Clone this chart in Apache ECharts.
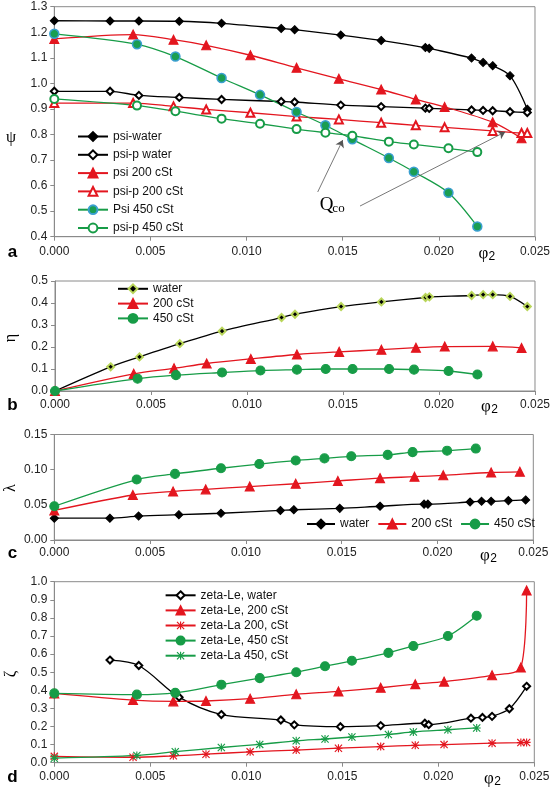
<!DOCTYPE html>
<html><head><meta charset="utf-8">
<script src="https://cdn.jsdelivr.net/npm/echarts@6/dist/echarts.min.js"></script>
<style>html,body{margin:0;padding:0;background:#fff}#c{width:553px;height:789px}</style>
</head><body><div id="c"></div>
<script>
// ---- data ----
const xTicks = [0, 0.005, 0.010, 0.015, 0.020, 0.025];
const xWater = [0, 0.0029, 0.0044, 0.0065, 0.0087, 0.0118, 0.0125, 0.0149, 0.0170, 0.0193, 0.0195, 0.0217, 0.0223, 0.0228, 0.0237, 0.0246];
const x200 = [0, 0.0041, 0.0062, 0.0079, 0.0102, 0.0126, 0.0148, 0.0170, 0.0188, 0.0203, 0.0228, 0.0243, 0.0246];
const x450 = [0, 0.0043, 0.0063, 0.0087, 0.0107, 0.0126, 0.0141, 0.0155, 0.0174, 0.0187, 0.0205, 0.0220];

// panel a (psi)
const psiWater  = [1.245, 1.244, 1.244, 1.243, 1.235, 1.215, 1.210, 1.189, 1.168, 1.140, 1.137, 1.099, 1.082, 1.069, 1.030, 0.899];
const psiPWater = [0.969, 0.969, 0.953, 0.945, 0.937, 0.929, 0.927, 0.915, 0.909, 0.903, 0.902, 0.896, 0.894, 0.893, 0.889, 0.886];
const psi200    = [1.174, 1.191, 1.171, 1.149, 1.110, 1.061, 1.018, 0.976, 0.937, 0.908, 0.848, 0.785, null];
const psiP200   = [0.923, 0.923, 0.910, 0.898, 0.885, 0.870, 0.859, 0.846, 0.836, 0.828, 0.814, 0.806, 0.806];
const psi450    = [1.194, 1.153, 1.105, 1.021, 0.955, 0.888, 0.836, 0.781, 0.708, 0.654, 0.572, 0.440];
const psiP450   = [0.939, 0.913, 0.891, 0.862, 0.842, 0.821, 0.807, 0.795, 0.772, 0.761, 0.746, 0.731];
// panel b (eta)
const etaWater = [0, 0.110, 0.155, 0.215, 0.272, 0.334, 0.349, 0.384, 0.405, 0.425, 0.428, 0.434, 0.438, 0.438, 0.430, 0.384];
const eta200   = [0, 0.078, 0.103, 0.125, 0.146, 0.166, 0.178, 0.188, 0.197, 0.202, 0.203, 0.196, null];
const eta450   = [0, 0.056, 0.072, 0.084, 0.093, 0.097, 0.100, 0.100, 0.100, 0.097, 0.091, 0.075];
// panel c (lambda)
const lamWater = [0.031, 0.031, 0.034, 0.036, 0.038, 0.042, 0.043, 0.045, 0.048, 0.051, 0.051, 0.054, 0.055, 0.055, 0.056, 0.057];
const lam200   = [0.042, 0.064, 0.069, 0.072, 0.076, 0.080, 0.084, 0.088, 0.090, 0.092, 0.096, 0.097, null];
const lam450   = [0.048, 0.086, 0.094, 0.102, 0.108, 0.113, 0.116, 0.119, 0.121, 0.125, 0.127, 0.130];
// panel d (zeta)
const zLeWater = [null, 0.567, 0.537, 0.362, 0.266, 0.236, 0.209, 0.199, 0.205, 0.218, 0.210, 0.246, 0.250, 0.256, 0.298, 0.422];
const zLe200   = [0.383, 0.346, 0.339, 0.341, 0.354, 0.378, 0.394, 0.414, 0.434, 0.448, 0.483, 0.526, 0.952];
const zLa200   = [0.035, 0.030, 0.038, 0.047, 0.060, 0.070, 0.080, 0.089, 0.096, 0.100, 0.108, 0.111, 0.112];
const zLe450   = [0.383, 0.376, 0.386, 0.431, 0.467, 0.500, 0.533, 0.563, 0.607, 0.645, 0.700, 0.812];
const zLa450   = [0.025, 0.040, 0.061, 0.084, 0.101, 0.121, 0.131, 0.142, 0.156, 0.170, 0.182, 0.192];
// annotation arrows for Q_co (data space)
const qcoArrows = [[[0.0137, 0.575], [0.0150, 0.778]], [[0.0159, 0.520], [0.02345, 0.810]]];

// ---- styling ----
const BLK = '#000000', RED = '#e3161f', GRN = '#179c47';
const AX = '#8a8a8a';
const SANS = '"Liberation Sans", Arial, sans-serif';
const SERIF = '"Liberation Serif", "Times New Roman", serif';
const ASTER = 'path://M4.3,0L5.7,0L5.7,10L4.3,10Z M0,4.3L10,4.3L10,5.7L0,5.7Z M1,0L10,9L9,10L0,1Z M9,0L10,1L1,10L0,9Z';

function pts(xs, ys) { const o = []; for (let i = 0; i < ys.length; i++) if (ys[i] != null) o.push([xs[i], ys[i]]); return o; }

function ser(name, g, xs, ys, color, symbol, size, extra) {
  const s = {
    name: name, type: 'line', xAxisIndex: g, yAxisIndex: g,
    data: pts(xs, ys), smooth: 0.3, showAllSymbol: true,
    symbol: symbol, symbolSize: size,
    lineStyle: { color: color, width: 1.3 },
    itemStyle: { color: color, borderColor: color, borderWidth: 1.1 },
    z: 3
  };
  if (extra) { for (const k in extra) s[k] = extra[k]; }
  return s;
}

function xAx(g, margin) {
  return {
    type: 'value', gridIndex: g, min: 0, max: 0.025, interval: 0.005,
    axisLine: { lineStyle: { color: AX } },
    axisTick: { show: true, length: 4, lineStyle: { color: AX } },
    splitLine: { show: false },
    axisLabel: { margin: margin, fontSize: 12, color: '#222', fontFamily: SANS, formatter: v => v.toFixed(3) }
  };
}
function yAx(g, min, max, interval, dec) {
  return {
    type: 'value', gridIndex: g, min: min, max: max, interval: interval,
    axisLine: { show: true, lineStyle: { color: AX } },
    axisTick: { show: true, length: 4, lineStyle: { color: AX } },
    splitLine: { show: false },
    axisLabel: { margin: 7, fontSize: 12, color: '#222', fontFamily: SANS, formatter: v => v.toFixed(dec) }
  };
}

const series = [
  // a
  ser('a|psi-water', 0, xWater, psiWater, BLK, 'diamond', 8),
  ser('a|psi-p water', 0, xWater, psiPWater, BLK, 'emptyDiamond', 7),
  ser('a|psi 200 cSt', 0, x200, psi200, RED, 'triangle', 9),
  ser('a|psi-p 200 cSt', 0, x200, psiP200, RED, 'emptyTriangle', 8),
  ser('a|Psi 450 cSt', 0, x450, psi450, GRN, 'circle', 9, { itemStyle: { color: '#1a9e52', borderColor: '#3a9fd0', borderWidth: 1.5 } }),
  ser('a|psi-p 450 cSt', 0, x450, psiP450, GRN, 'emptyCircle', 8),
  {
    name: 'qco', type: 'line', xAxisIndex: 0, yAxisIndex: 0, data: [], silent: true,
    markLine: {
      silent: true, symbol: ['none', 'arrow'], symbolSize: 7, animation: false,
      label: { show: false },
      lineStyle: { color: '#555', width: 0.8, type: 'solid' },
      data: qcoArrows.map(a => [{ coord: a[0] }, { coord: a[1] }])
    }
  },
  // b
  ser('b|water', 1, xWater, etaWater, BLK, 'diamond', 7, { itemStyle: { color: '#000', borderColor: '#b9d65a', borderWidth: 2 } }),
  ser('b|200 cSt', 1, x200, eta200, RED, 'triangle', 9),
  ser('b|450 cSt', 1, x450, eta450, GRN, 'circle', 9),
  // c
  ser('c|water', 2, xWater, lamWater, BLK, 'diamond', 8),
  ser('c|200 cSt', 2, x200, lam200, RED, 'triangle', 9),
  ser('c|450 cSt', 2, x450, lam450, GRN, 'circle', 9),
  // d
  ser('d|zeta-Le, water', 3, xWater, zLeWater, BLK, 'emptyDiamond', 7),
  ser('d|zeta-Le, 200 cSt', 3, x200, zLe200, RED, 'triangle', 9),
  ser('d|zeta-La 200, cSt', 3, x200, zLa200, RED, ASTER, 8, { itemStyle: { color: RED, borderWidth: 0 } }),
  ser('d|zeta-Le, 450 cSt', 3, x450, zLe450, GRN, 'circle', 9),
  ser('d|zeta-La 450, cSt', 3, x450, zLa450, GRN, ASTER, 8, { itemStyle: { color: GRN, borderWidth: 0 } })
];

function leg(names, left, top, itemH, gap, orient, itemW) {
  return {
    data: names, left: left, top: top, orient: orient, padding: 0,
    itemWidth: itemW, itemHeight: itemH, itemGap: gap, selectedMode: false,
    formatter: n => n.split('|')[1],
    textStyle: { fontSize: 12, fontFamily: SANS, color: '#111', lineHeight: itemH }
  };
}

const legends = [
  leg(['a|psi-water', 'a|psi-p water', 'a|psi 200 cSt', 'a|psi-p 200 cSt', 'a|Psi 450 cSt', 'a|psi-p 450 cSt'], 77, 130.5, 11, 6.3, 'vertical', 30),
  leg(['b|water', 'b|200 cSt', 'b|450 cSt'], 117, 282.8, 11, 2.8, 'vertical', 30),
  leg(['c|water', 'c|200 cSt', 'c|450 cSt'], 306, 518, 11, 8, 'horizontal', 28),
  leg(['d|zeta-Le, water', 'd|zeta-Le, 200 cSt', 'd|zeta-La 200, cSt', 'd|zeta-Le, 450 cSt', 'd|zeta-La 450, cSt'], 164.6, 589.3, 10, 3.1, 'vertical', 30)
];

const gridBase = { show: true, borderColor: AX, borderWidth: 1, backgroundColor: 'transparent', containLabel: false };
const grids = [
  Object.assign({ left: 54.3, top: 6.7, width: 483, height: 230 }, gridBase),
  Object.assign({ left: 55, top: 281, width: 482, height: 110 }, gridBase),
  Object.assign({ left: 54.3, top: 434.5, width: 479, height: 105.5 }, gridBase),
  Object.assign({ left: 54.3, top: 581.7, width: 480, height: 181 }, gridBase)
];

function txt(x, y, text, size, family, weight, rot) {
  return {
    type: 'text', x: x, y: y, rotation: rot || 0, silent: true,
    style: { text: text, fontSize: size, fontFamily: family, fontWeight: weight || 'normal', fill: '#000', align: 'center', verticalAlign: 'middle' }
  };
}
const graphics = [
  txt(12.5, 252, 'a', 17, SANS, 'bold'),
  txt(12.5, 405, 'b', 17, SANS, 'bold'),
  txt(12.5, 553.5, 'c', 17, SANS, 'bold'),
  txt(12.5, 777, 'd', 17, SANS, 'bold'),
  txt(483.3, 253.3, 'φ', 17, SERIF), txt(491.8, 256.5, '2', 12, SANS),
  txt(486, 407, 'φ', 17, SERIF), txt(494.5, 410, '2', 12, SANS),
  txt(485, 556, 'φ', 17, SERIF), txt(493.5, 559, '2', 12, SANS),
  txt(489, 779, 'φ', 17, SERIF), txt(497.5, 782, '2', 12, SANS),
  txt(11, 138, 'ψ', 16, SERIF),
  txt(10.5, 338, 'η', 16, SERIF, 'normal', Math.PI / 2),
  txt(10.5, 488, 'λ', 16, SERIF, 'normal', Math.PI / 2),
  txt(10.5, 674, 'ζ', 16, SERIF, 'normal', Math.PI / 2),
  txt(326.5, 205.5, 'Q', 19, SERIF), txt(338.5, 208.5, 'co', 13, SERIF)
];

const chart = echarts.init(document.getElementById('c'), null, { renderer: 'canvas' });
chart.setOption({
  animation: false,
  backgroundColor: '#fff',
  grid: grids,
  xAxis: [xAx(0, 9), xAx(1, 8), xAx(2, 7), xAx(3, 8)],
  yAxis: [yAx(0, 0.4, 1.3, 0.1, 1), yAx(1, 0, 0.5, 0.1, 1), yAx(2, 0, 0.15, 0.05, 2), yAx(3, 0, 1.0, 0.1, 1)],
  legend: legends,
  series: series,
  graphic: graphics
});
</script></body></html>
